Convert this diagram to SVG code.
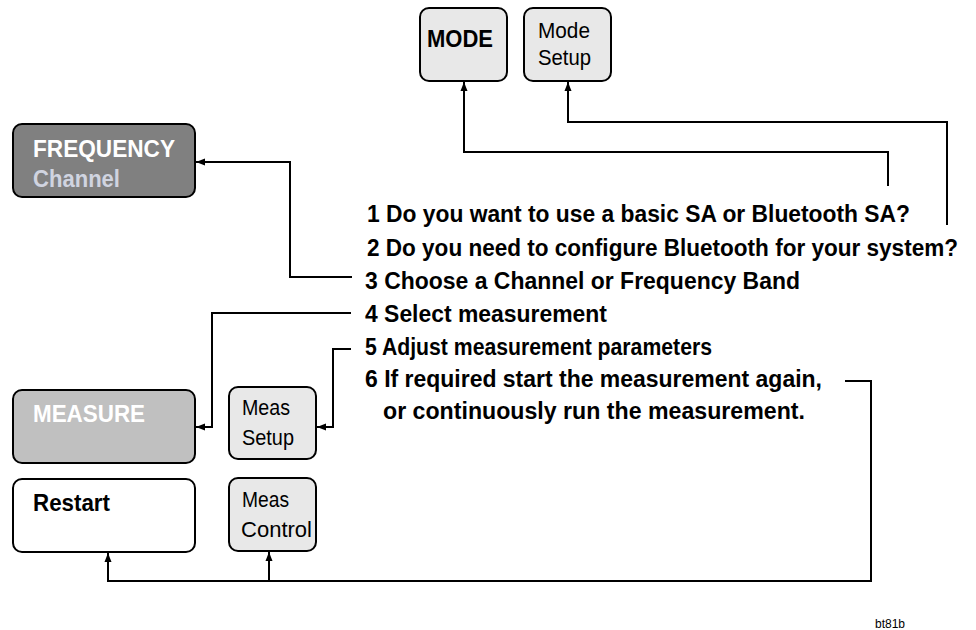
<svg xmlns="http://www.w3.org/2000/svg" width="976" height="630" viewBox="0 0 976 630">
<style>
.box{stroke:#000;stroke-width:2}
.key{fill:#e8e8e8}
.t{font-family:"Liberation Sans",Arial,sans-serif}
.b{font-weight:bold}
.step{font-family:"Liberation Sans",Arial,sans-serif;font-weight:bold;font-size:24.5px;fill:#000}
.c{fill:none;stroke:#000;stroke-width:2}
</style>
<defs>
<marker id="ah" markerUnits="userSpaceOnUse" markerWidth="10" markerHeight="10" refX="9" refY="5" orient="auto">
<path d="M0,1.5 L9,5 L0,8.5 Z" fill="#000"/>
</marker>
</defs>
<rect width="976" height="630" fill="#fff"/>

<g id="mode">
<rect class="box key" x="420" y="8" width="87" height="73" rx="9"/>
<text class="t b" x="427" y="47" font-size="24" textLength="66" lengthAdjust="spacingAndGlyphs">MODE</text>
</g>
<g id="mode-setup">
<rect class="box key" x="524" y="8" width="87" height="73" rx="9"/>
<text class="t" x="538" y="38" font-size="22" textLength="52" lengthAdjust="spacingAndGlyphs">Mode</text>
<text class="t" x="538" y="65" font-size="22" textLength="53" lengthAdjust="spacingAndGlyphs">Setup</text>
</g>
<g id="frequency">
<rect class="box" x="13" y="124" width="182" height="73" rx="9" fill="#808080"/>
<text class="t b" x="33" y="157" font-size="24" fill="#fff" textLength="142" lengthAdjust="spacingAndGlyphs">FREQUENCY</text>
<text class="t b" x="33" y="187" font-size="24" fill="#d0d4e0" textLength="87" lengthAdjust="spacingAndGlyphs">Channel</text>
</g>
<g id="measure">
<rect class="box" x="13" y="390" width="182" height="73" rx="9" fill="#c0c0c0"/>
<text class="t b" x="33" y="422" font-size="24" fill="#fff" textLength="112" lengthAdjust="spacingAndGlyphs">MEASURE</text>
</g>
<g id="meas-setup">
<rect class="box key" x="229" y="387" width="87" height="72" rx="9"/>
<text class="t" x="242" y="415" font-size="22" textLength="48" lengthAdjust="spacingAndGlyphs">Meas</text>
<text class="t" x="242" y="445" font-size="22" textLength="52" lengthAdjust="spacingAndGlyphs">Setup</text>
</g>
<g id="restart">
<rect class="box" x="13" y="479" width="182" height="73" rx="9" fill="#fff"/>
<text class="t b" x="33" y="511" font-size="24" fill="#000" textLength="77" lengthAdjust="spacingAndGlyphs">Restart</text>
</g>
<g id="meas-control">
<rect class="box key" x="229" y="478" width="87" height="73" rx="9"/>
<text class="t" x="242" y="507" font-size="22" textLength="47" lengthAdjust="spacingAndGlyphs">Meas</text>
<text class="t" x="241" y="537" font-size="22" textLength="71" lengthAdjust="spacingAndGlyphs">Control</text>
</g>

<g id="steps" transform="scale(0.8,1)">
<text class="step" x="458.75" y="222" textLength="678.75" lengthAdjust="spacingAndGlyphs">1 Do you want to use a basic SA or Bluetooth SA?</text>
<text class="step" x="458.75" y="256" textLength="738.75" lengthAdjust="spacingAndGlyphs">2 Do you need to configure Bluetooth for your system?</text>
<text class="step" x="456.25" y="289" textLength="543.75" lengthAdjust="spacingAndGlyphs">3 Choose a Channel or Frequency Band</text>
<text class="step" x="456.25" y="322" textLength="302.5" lengthAdjust="spacingAndGlyphs">4 Select measurement</text>
<text class="step" x="456.25" y="355" textLength="433.75" lengthAdjust="spacingAndGlyphs">5 Adjust measurement parameters</text>
<text class="step" x="456.25" y="387" textLength="571.25" lengthAdjust="spacingAndGlyphs">6 If required start the measurement again,</text>
<text class="step" x="478.75" y="419" textLength="527.5" lengthAdjust="spacingAndGlyphs">or continuously run the measurement.</text>
</g>

<g id="connectors">
<path class="c" d="M888,186 V152 H464 V82" marker-end="url(#ah)"/>
<path class="c" d="M947,225 V122 H568 V82" marker-end="url(#ah)"/>
<path class="c" d="M352,277 H290 V162 H196" marker-end="url(#ah)"/>
<path class="c" d="M351,313 H212 V427 H196" marker-end="url(#ah)"/>
<path class="c" d="M351,349 H333 V427 H317" marker-end="url(#ah)"/>
<path class="c" d="M845,381 H871 V581 H108 V553" marker-end="url(#ah)"/>
<path class="c" d="M269,581 V552" marker-end="url(#ah)"/>
</g>

<text class="t" x="875" y="628" font-size="12" fill="#000">bt81b</text>
</svg>
